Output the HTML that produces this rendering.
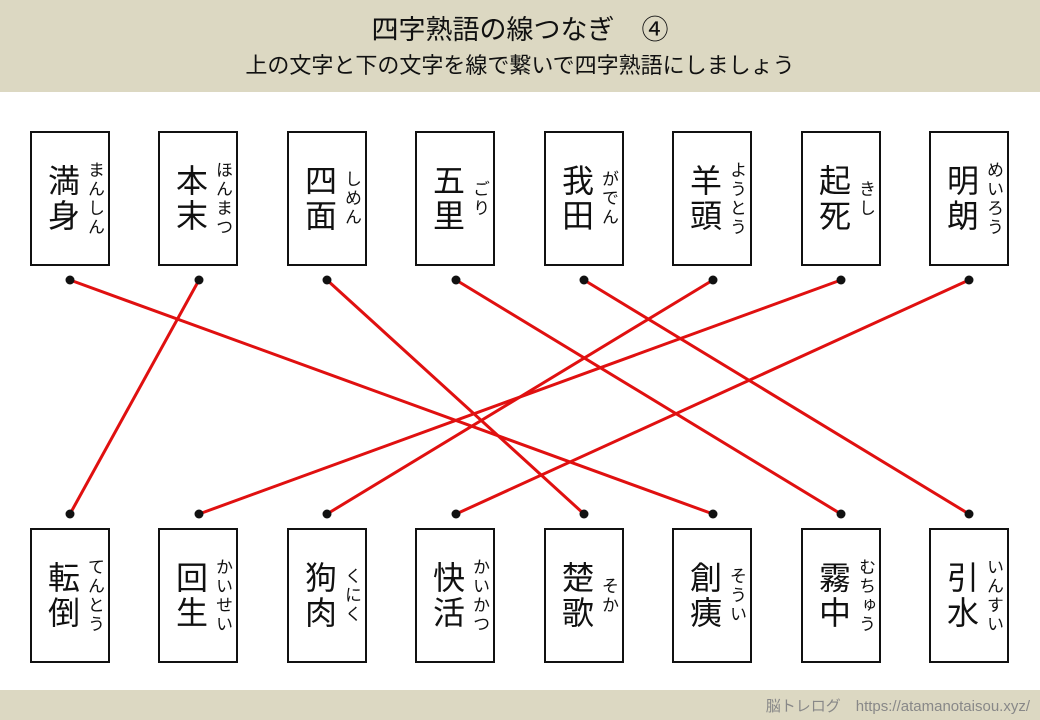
<!DOCTYPE html>
<html><head><meta charset="utf-8"><style>
body{margin:0;width:1040px;height:720px;background:#fff;position:relative;overflow:hidden;font-family:"Liberation Sans","Noto Sans CJK JP",sans-serif}
.hdr{position:absolute;left:0;top:0;width:1040px;height:92px;background:#dcd8c2}
.t1{position:absolute;top:8px;width:1040px;text-align:center;font-size:27px;color:#111}
.t2{position:absolute;top:48px;width:1040px;text-align:center;font-size:22px;color:#111}
.ftr{position:absolute;left:0;top:690px;width:1040px;height:30px;background:#dcd8c2}
.ft{position:absolute;right:10px;top:695px;font-size:15px;color:#888}
.card{position:absolute;width:76px;height:131px;border:2px solid #111;background:#fff}
.k{position:absolute;left:14px;top:0;height:131px;width:36px;display:flex;flex-direction:column;justify-content:center;font-size:32px;line-height:35px;color:#111;text-align:center}
.f{position:absolute;left:50px;top:0;height:131px;width:24px;display:flex;align-items:center;justify-content:center}
.f span{writing-mode:vertical-rl;font-size:17px;line-height:20px;letter-spacing:2px;color:#111}
svg{position:absolute;left:0;top:0}
</style></head><body>
<div class="hdr"></div>
<div class="t1">四字熟語の線つなぎ　④</div>
<div class="t2">上の文字と下の文字を線で繋いで四字熟語にしましょう</div>
<div class="ftr"></div><div class="ft">脳トレログ　https://atamanotaisou.xyz/</div>

<div class="card" style="left:30px;top:131px"><div class="k"><div>満</div><div>身</div></div><div class="f"><span>まんしん</span></div></div>
<div class="card" style="left:158px;top:131px"><div class="k"><div>本</div><div>末</div></div><div class="f"><span>ほんまつ</span></div></div>
<div class="card" style="left:287px;top:131px"><div class="k"><div>四</div><div>面</div></div><div class="f"><span>しめん</span></div></div>
<div class="card" style="left:415px;top:131px"><div class="k"><div>五</div><div>里</div></div><div class="f"><span>ごり</span></div></div>
<div class="card" style="left:544px;top:131px"><div class="k"><div>我</div><div>田</div></div><div class="f"><span>がでん</span></div></div>
<div class="card" style="left:672px;top:131px"><div class="k"><div>羊</div><div>頭</div></div><div class="f"><span>ようとう</span></div></div>
<div class="card" style="left:801px;top:131px"><div class="k"><div>起</div><div>死</div></div><div class="f"><span>きし</span></div></div>
<div class="card" style="left:929px;top:131px"><div class="k"><div>明</div><div>朗</div></div><div class="f"><span>めいろう</span></div></div>

<div class="card" style="left:30px;top:528px"><div class="k"><div>転</div><div>倒</div></div><div class="f"><span>てんとう</span></div></div>
<div class="card" style="left:158px;top:528px"><div class="k"><div>回</div><div>生</div></div><div class="f"><span>かいせい</span></div></div>
<div class="card" style="left:287px;top:528px"><div class="k"><div>狗</div><div>肉</div></div><div class="f"><span>くにく</span></div></div>
<div class="card" style="left:415px;top:528px"><div class="k"><div>快</div><div>活</div></div><div class="f"><span>かいかつ</span></div></div>
<div class="card" style="left:544px;top:528px"><div class="k"><div>楚</div><div>歌</div></div><div class="f"><span>そか</span></div></div>
<div class="card" style="left:672px;top:528px"><div class="k"><div>創</div><div>痍</div></div><div class="f"><span>そうい</span></div></div>
<div class="card" style="left:801px;top:528px"><div class="k"><div>霧</div><div>中</div></div><div class="f"><span>むちゅう</span></div></div>
<div class="card" style="left:929px;top:528px"><div class="k"><div>引</div><div>水</div></div><div class="f"><span>いんすい</span></div></div>

<svg width="1040" height="720">
<g stroke="#e01010" stroke-width="3">
<line x1="70" y1="280" x2="713" y2="514"/>
<line x1="199" y1="280" x2="70" y2="514"/>
<line x1="327" y1="280" x2="584" y2="514"/>
<line x1="456" y1="280" x2="841" y2="514"/>
<line x1="584" y1="280" x2="969" y2="514"/>
<line x1="713" y1="280" x2="327" y2="514"/>
<line x1="841" y1="280" x2="199" y2="514"/>
<line x1="969" y1="280" x2="456" y2="514"/>
</g>
<g fill="#111">
<circle cx="70" cy="280" r="4.5"/><circle cx="199" cy="280" r="4.5"/><circle cx="327" cy="280" r="4.5"/><circle cx="456" cy="280" r="4.5"/><circle cx="584" cy="280" r="4.5"/><circle cx="713" cy="280" r="4.5"/><circle cx="841" cy="280" r="4.5"/><circle cx="969" cy="280" r="4.5"/>
<circle cx="70" cy="514" r="4.5"/><circle cx="199" cy="514" r="4.5"/><circle cx="327" cy="514" r="4.5"/><circle cx="456" cy="514" r="4.5"/><circle cx="584" cy="514" r="4.5"/><circle cx="713" cy="514" r="4.5"/><circle cx="841" cy="514" r="4.5"/><circle cx="969" cy="514" r="4.5"/>
</g>
</svg>
</body></html>
